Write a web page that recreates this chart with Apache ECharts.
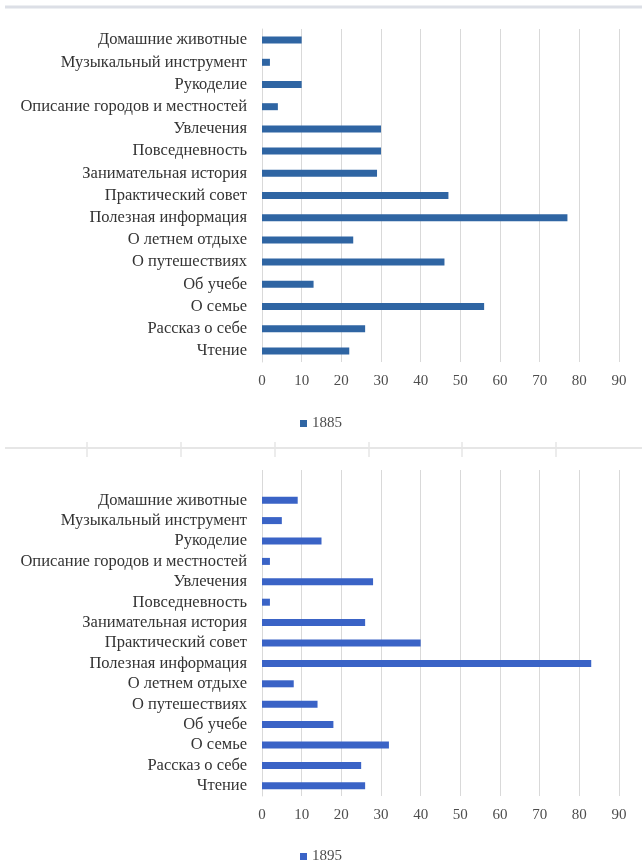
<!DOCTYPE html>
<html>
<head>
<meta charset="utf-8">
<script src="https://cdn.jsdelivr.net/npm/echarts@6/dist/echarts.min.js"></script>
<style>
  html, body { margin: 0; padding: 0; background: #fff; }
  #chart { width: 642px; height: 861px; }
</style>
</head>
<body>
<div id="chart"></div>
<script>
// категории сверху вниз
var categories = ['Домашние животные', 'Музыкальный инструмент', 'Рукоделие',
    'Описание городов и местностей', 'Увлечения', 'Повседневность',
    'Занимательная история', 'Практический совет', 'Полезная информация',
    'О летнем отдыхе', 'О путешествиях', 'Об учебе', 'О семье',
    'Рассказ о себе', 'Чтение'];
var values1885 = [10, 2, 10, 4, 30, 30, 29, 47, 77, 23, 46, 13, 56, 26, 22];
var values1895 = [9, 5, 15, 2, 28, 2, 26, 40, 83, 8, 14, 18, 32, 25, 26];
var seriesNames = ['1885', '1895'];
var xMax = 90, xStep = 10;

var font = "'Liberation Serif', 'Times New Roman', serif";
var gridColor = '#d9d9d9';

var myChart = echarts.init(document.getElementById('chart'));

function catAxis(gi) {
    return {
        type: 'category', gridIndex: gi, data: categories, inverse: true,
        axisLine: { show: true, lineStyle: { color: gridColor } },
        axisTick: { show: false },
        axisLabel: { interval: 0, color: '#333', fontFamily: font, fontSize: 16.5, margin: 15 }
    };
}
function valAxis(gi, showLabels, showSplit) {
    return {
        type: 'value', gridIndex: gi, min: 0, max: xMax, interval: xStep,
        axisLine: { show: false }, axisTick: { show: false },
        axisLabel: { show: showLabels, color: '#4d4d4d', fontFamily: font, fontSize: 15, margin: 12 },
        splitLine: { show: showSplit, lineStyle: { color: gridColor } }
    };
}

// рамка и засечки между диаграммами
var graphics = [
    { type: 'line', shape: { x1: 5, y1: 7, x2: 642, y2: 7 }, style: { stroke: '#dcdfe6', lineWidth: 3 } },
    { type: 'line', shape: { x1: 5, y1: 448, x2: 642, y2: 448 }, style: { stroke: '#e6e6e6', lineWidth: 2 } }
];
[87, 181, 275, 369, 462, 556].forEach(function (x) {
    graphics.push({ type: 'line', shape: { x1: x, y1: 442, x2: x, y2: 457 }, style: { stroke: '#e6e6e6', lineWidth: 1.5 } });
});

var option = {
    animation: false,
    backgroundColor: '#fff',
    textStyle: { fontFamily: font },
    graphic: graphics,
    legend: [
        { data: [seriesNames[0]], top: 411, left: 'center', icon: 'rect', itemWidth: 7, itemHeight: 7, itemGap: 3,
          textStyle: { color: '#4d4d4d', fontFamily: font, fontSize: 15 } },
        { data: [seriesNames[1]], top: 844, left: 'center', icon: 'rect', itemWidth: 7, itemHeight: 7, itemGap: 3,
          textStyle: { color: '#4d4d4d', fontFamily: font, fontSize: 15 } }
    ],
    grid: [
        { left: 262, right: 23, top: 29, bottom: 861 - 362 },
        { left: 262, right: 23, top: 490, bottom: 861 - 796 },
        { left: 262, right: 23, top: 470, bottom: 861 - 796 }
    ],
    xAxis: [
        valAxis(0, true, true),
        valAxis(1, false, false),
        valAxis(2, true, true)
    ],
    yAxis: [
        catAxis(0),
        catAxis(1),
        { type: 'value', gridIndex: 2, min: 0, max: 1, show: false }
    ],
    series: [
        { name: seriesNames[0], type: 'bar', xAxisIndex: 0, yAxisIndex: 0, data: values1885,
          barWidth: 7, itemStyle: { color: '#2f65a3' } },
        { name: seriesNames[1], type: 'bar', xAxisIndex: 1, yAxisIndex: 1, data: values1895,
          barWidth: 7, itemStyle: { color: '#3a63c6' } }
    ]
};

myChart.setOption(option);
</script>
</body>
</html>
